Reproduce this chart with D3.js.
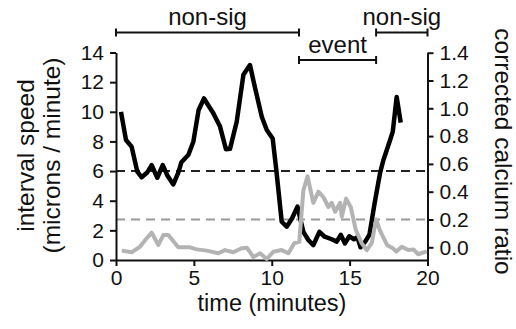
<!DOCTYPE html>
<html><head><meta charset="utf-8">
<script src="https://cdn.jsdelivr.net/npm/d3@7"></script>
<style>
body{margin:0;background:#fff;}
svg text{font-family:"Liberation Sans",Arial,Helvetica,sans-serif;fill:#111;}
</style></head>
<body><svg id="c" width="516" height="329"></svg>
<script>
// speed series (left axis)
const speedTime = [0.32,0.64,1.0,1.37,1.65,2.0,2.29,2.65,3.0,3.3,3.68,4.0,4.2,4.65,4.97,5.3,5.65,6.25,6.68,7.06,7.32,7.75,8.18,8.6,8.93,9.36,9.68,10.06,10.3,10.64,10.96,11.3,11.65,12.03,12.35,12.67,13.06,13.4,13.85,14.17,14.43,14.7,14.98,15.28,15.5,15.7,16.0,16.27,16.6,16.95,17.17,17.6,17.77,18.02,18.28];
const speedValue = [10.0,8.1,7.65,5.96,5.58,5.9,6.4,5.55,6.4,5.7,5.1,5.9,6.6,7.1,8.0,10.1,10.9,9.9,9.0,7.47,7.5,9.33,12.5,13.15,11.6,9.67,8.77,8.2,6.0,2.58,2.25,2.8,3.6,1.9,1.35,1.0,1.9,1.57,1.4,1.24,1.7,1.12,1.6,1.4,1.55,0.86,1.24,1.7,3.8,5.85,6.75,8.1,8.66,11.0,9.27];
// calcium series (right axis)
const calTime = [0.37,1.0,1.54,1.97,2.29,2.72,3.04,3.36,4.0,4.75,5.18,5.82,6.57,7.0,7.53,8.07,8.4,8.82,9.25,9.68,10.1,10.64,11.07,11.45,11.77,12.03,12.3,12.67,13.0,13.32,13.64,13.85,14.07,14.39,14.5,14.77,15.07,15.4,15.77,16.1,16.42,16.7,16.95,17.4,17.77,18.0,18.35,18.77,19.1,19.4,19.95];
const calValue = [-0.024,-0.036,0.004,0.065,0.105,0.017,0.088,0.088,0.0,0.0,-0.015,-0.024,-0.043,-0.02,-0.036,-0.007,-0.003,-0.07,-0.043,-0.084,-0.032,-0.02,-0.043,0.03,0.04,0.41,0.51,0.32,0.40,0.36,0.29,0.32,0.256,0.32,0.22,0.35,0.29,0.124,0.03,-0.02,0.03,0.2,0.12,0.017,-0.007,-0.03,0.004,-0.02,-0.015,-0.05,-0.03];
// thresholds
const speedThreshold = 6;
const calThreshold = 0.2;
// axis ticks
const xTicks = [0,5,10,15,20];
const leftTicks = [0,2,4,6,8,10,12,14];
const rightTicks = [0,0.2,0.4,0.6,0.8,1.0,1.2,1.4];
// annotation periods
const periodLabels = ["non-sig","event","non-sig"];
const periodStart = [0,11.75,16.7];
const periodEnd = [11.75,16.7,20];
const periodRow = [0,1,0];

const svg = d3.select("#c");
const x = d3.scaleLinear().domain([0,20]).range([116,427.5]);
const yL = d3.scaleLinear().domain([0,14]).range([260,52.5]);
const yR = d3.scaleLinear().domain([-0.0914,1.4]).range([260,52.7]);

// dashed thresholds
svg.append("line").attr("x1",x(0)).attr("x2",x(20)).attr("y1",yL(speedThreshold)).attr("y2",yL(speedThreshold))
  .attr("stroke","#222").attr("stroke-width",2).attr("stroke-dasharray","9,6");
svg.append("line").attr("x1",x(0)).attr("x2",x(20)).attr("y1",yR(calThreshold)).attr("y2",yR(calThreshold))
  .attr("stroke","#999").attr("stroke-width",2).attr("stroke-dasharray","9,6");

const fs = "21px";
// axes
const gx = svg.append("g").attr("transform","translate(0,260)")
  .call(d3.axisBottom(x).tickValues(xTicks).tickSize(6).tickSizeOuter(0).tickPadding(4));
const gl = svg.append("g").attr("transform","translate(116,0)")
  .call(d3.axisLeft(yL).tickValues(leftTicks).tickSize(6).tickSizeOuter(0).tickPadding(6));
const gr = svg.append("g").attr("transform","translate(427.5,0)")
  .call(d3.axisRight(yR).tickValues(rightTicks).tickFormat(d3.format(".1f")).tickSize(6).tickSizeOuter(0).tickPadding(6));
[gx,gl,gr].forEach(g=>{
  g.selectAll("path").attr("stroke","#111").attr("stroke-width",2);
  g.selectAll("line").attr("stroke","#111").attr("stroke-width",2);
  g.selectAll("text").attr("font-size",fs).attr("fill","#111").style("font-family","'Liberation Sans',Arial,sans-serif");
});

// lines
const lineS = d3.line().x((d,i)=>x(speedTime[i])).y(d=>yL(d));
const lineC = d3.line().x((d,i)=>x(calTime[i])).y(d=>yR(d));
svg.append("path").attr("d",lineS(speedValue)).attr("fill","none").attr("stroke","#000").attr("stroke-width",4.5).attr("stroke-linejoin","round");
svg.append("path").attr("d",lineC(calValue)).attr("fill","none").attr("stroke","#b3b3b3").attr("stroke-width",4).attr("stroke-linejoin","round");

// period annotations
const rowY = [32.5,60];
periodLabels.forEach((lab,i)=>{
  const y0 = rowY[periodRow[i]];
  const g = svg.append("g");
  g.append("line").attr("x1",x(periodStart[i])).attr("x2",x(periodEnd[i])).attr("y1",y0).attr("y2",y0).attr("stroke","#111").attr("stroke-width",2);
  [periodStart[i],periodEnd[i]].forEach(t=>{
    g.append("line").attr("x1",x(t)).attr("x2",x(t)).attr("y1",y0-4).attr("y2",y0+4).attr("stroke","#111").attr("stroke-width",2);
  });
  g.append("text").attr("x",(x(periodStart[i])+x(periodEnd[i]))/2).attr("y",y0-7.5)
    .attr("text-anchor","middle").attr("font-size","24px").text(lab);
});

// titles
svg.append("text").attr("x",272).attr("y",311).attr("text-anchor","middle").attr("font-size","23.5px").text("time (minutes)");
svg.append("text").attr("transform","translate(34,155.5) rotate(-90)").attr("text-anchor","middle").attr("font-size","24.5px").text("interval speed");
svg.append("text").attr("transform","translate(59.5,155.5) rotate(-90)").attr("text-anchor","middle").attr("font-size","24.5px").text("(microns / minute)");
svg.append("text").attr("transform","translate(495,151.5) rotate(90)").attr("text-anchor","middle").attr("font-size","24.5px").text("corrected calcium ratio");
</script></body></html>
